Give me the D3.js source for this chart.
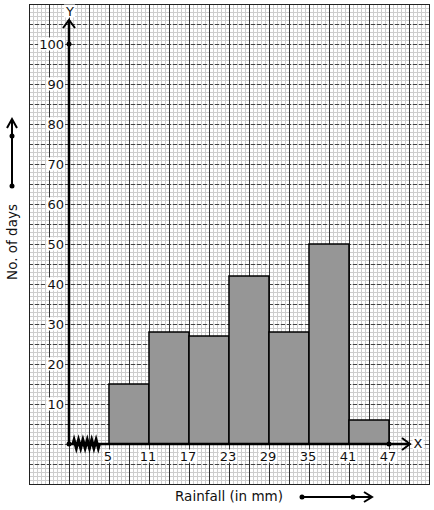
<!DOCTYPE html>
<html>
<head>
<meta charset="utf-8">
<script src="https://cdn.jsdelivr.net/npm/d3@7"></script>
<style>
  body { margin: 0; background: #fff; }
  text { font-family: "DejaVu Sans", sans-serif; font-size: 13px; fill: #111; }
  .title { font-size: 13.5px; }
</style>
</head>
<body>
<script>
// class boundaries (mm) and number of days in each class
var bounds = [5, 11, 17, 23, 29, 35, 41, 47];
var days = [15, 28, 27, 42, 28, 50, 6];
var yTicks = [10, 20, 30, 40, 50, 60, 70, 80, 90, 100];

var width = 434, height = 510;

var svg = d3.select("body").append("svg")
    .attr("width", width)
    .attr("height", height);

// x axis has a break: origin sits one class width left of 5
var x = d3.scaleLinear().domain([5, 47]).range([109, 389]);
var y = d3.scaleLinear().domain([0, 100]).range([444, 44]);
var ox = 69, oy = y(0);

// graph paper
var gx0 = 29, gx1 = 429, gy0 = 4, gy1 = 484;
var paper = svg.append("g");
paper.selectAll(".mv").data(d3.range(gx0, gx1 + 1, 4)).enter().append("line")
    .attr("x1", d => d + 0.5).attr("x2", d => d + 0.5)
    .attr("y1", gy0).attr("y2", gy1)
    .style("stroke", "#cdcdcd");
paper.selectAll(".mh").data(d3.range(gy0, gy1 + 1, 4)).enter().append("line")
    .attr("y1", d => d + 0.5).attr("y2", d => d + 0.5)
    .attr("x1", gx0).attr("x2", gx1)
    .style("stroke", "#cdcdcd");
paper.selectAll(".Mv").data(d3.range(gx0, gx1 + 1, 20)).enter().append("line")
    .attr("x1", d => d + 0.5).attr("x2", d => d + 0.5)
    .attr("y1", gy0).attr("y2", gy1)
    .style("stroke", "#333");
paper.selectAll(".Mh").data(d3.range(gy0, gy1 + 1, 20)).enter().append("line")
    .attr("y1", d => d + 0.5).attr("y2", d => d + 0.5)
    .attr("x1", gx0).attr("x2", gx1)
    .style("stroke", "#444").style("stroke-dasharray", "4,2");
paper.append("rect")
    .attr("x", gx0 + 0.5).attr("y", gy0 + 0.5)
    .attr("width", gx1 - gx0).attr("height", gy1 - gy0)
    .style("fill", "none").style("stroke", "#222");

// histogram bars
svg.selectAll(".bar").data(days).enter().append("rect")
    .attr("x", (d, i) => x(bounds[i]))
    .attr("y", d => y(d))
    .attr("width", (d, i) => x(bounds[i + 1]) - x(bounds[i]))
    .attr("height", d => oy - y(d))
    .style("fill", "#969696")
    .style("stroke", "#000")
    .style("stroke-width", 1.5);

// axes lines
var axes = svg.append("g").style("stroke", "#000").style("stroke-width", 2.5).style("fill", "none");
axes.append("line").attr("x1", ox).attr("x2", 410).attr("y1", oy).attr("y2", oy);
axes.append("line").attr("x1", ox).attr("x2", ox).attr("y1", oy).attr("y2", 20);
axes.append("path").attr("d", "M402,438 L410,444 L402,450").style("stroke-width", 2);
axes.append("path").attr("d", "M63,28 L69,20 L75,28").style("stroke-width", 2);

// kink on x axis
var zz = "M73," + oy;
d3.range(0, 6).forEach(function(i) {
  var s = 73 + i * 4.4;
  zz += " L" + (s + 1.1) + "," + (oy - 4) + " L" + (s + 3.3) + "," + (oy + 4) + " L" + (s + 4.4) + "," + oy;
});
axes.append("path").attr("d", zz).style("stroke-width", 3);

svg.selectAll(".dot").data([[ox, oy], [ox, y(100)], [x(47), oy]]).enter().append("circle")
    .attr("cx", d => d[0]).attr("cy", d => d[1]).attr("r", 2.5)
    .style("fill", "#000");

// label helper with white background
function label(tx, ty, str, anchor) {
  var g = svg.append("g");
  var t = g.append("text").attr("x", tx).attr("y", ty)
      .attr("text-anchor", anchor).attr("dominant-baseline", "central").text(str);
  var b = t.node().getBBox();
  g.insert("rect", "text").attr("x", b.x - 1).attr("y", b.y + 1)
      .attr("width", b.width + 2).attr("height", b.height - 2)
      .style("fill", "#fff");
}

yTicks.forEach(function(v) { label(64, y(v), v, "end"); });
bounds.forEach(function(v) { label(x(v) - 1, 456, v, "middle"); });
label(70, 11, "Y", "middle");
label(418, 443, "X", "middle");

// axis titles with direction arrows
svg.append("text").attr("class", "title").attr("transform", "translate(17,242) rotate(-90)")
    .attr("text-anchor", "middle").text("No. of days");
svg.append("text").attr("class", "title").attr("x", 229).attr("y", 501)
    .attr("text-anchor", "middle").text("Rainfall (in mm)");

var arr = svg.append("g").style("stroke", "#000").style("stroke-width", 2).style("fill", "none");
arr.append("line").attr("x1", 12).attr("x2", 12).attr("y1", 186).attr("y2", 119);
arr.append("path").attr("d", "M7,128 L12,119 L17,128");
arr.append("line").attr("x1", 302).attr("x2", 372).attr("y1", 497).attr("y2", 497);
arr.append("path").attr("d", "M364,492 L372,497 L364,502");
svg.selectAll(".adot").data([[12, 186], [12, 136], [302, 497], [353, 497]]).enter().append("circle")
    .attr("cx", d => d[0]).attr("cy", d => d[1]).attr("r", 2.5)
    .style("fill", "#000");
</script>
</body>
</html>
